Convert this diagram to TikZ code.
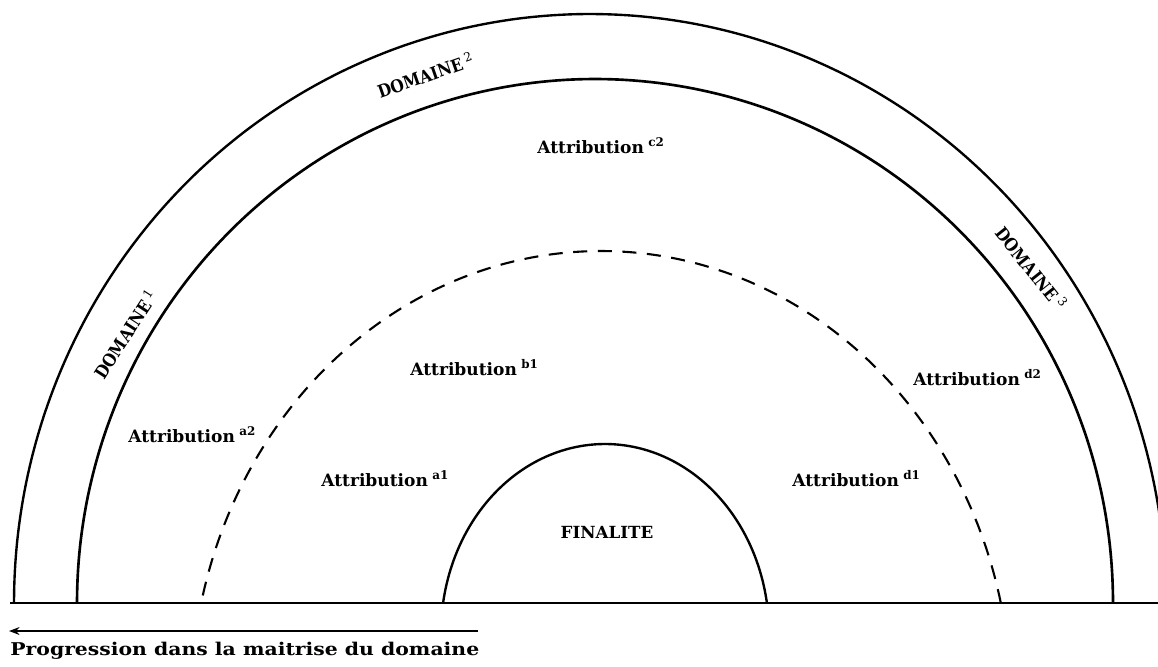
\documentclass[tikz,border=0pt]{standalone}
\usepackage{fontspec}
\setmainfont{DejaVu Serif}
\usetikzlibrary{arrows.meta}
\begin{document}
\begin{tikzpicture}[x=0.02cm,y=-0.02cm,
  arch/.style={line width=1.35pt},
  innerarch/.style={line width=1.5pt},
  dasharch/.style={line width=1.2pt, dash pattern=on 8pt off 6pt},
  ground/.style={line width=0.9pt},
  lab/.style={font=\fontsize{9.7}{12}\selectfont\bfseries, inner sep=0pt, anchor=base west},
  dom/.style={font=\fontsize{10}{12}\selectfont\bfseries, inner sep=0pt, anchor=base west}]
\useasboundingbox (0,0) rectangle (1158,666);

% the nested arches
\begin{scope}
  \clip (0,0) rectangle (1158,666);
  \draw[arch] plot[domain=0.6:180,samples=150,smooth]
    ({590+576*cos(\x)},{603-589*sin(\x)});
\end{scope}
\draw[innerarch] plot[domain=0:180,samples=150,smooth]
  ({595+518*cos(\x)},{603-524*sin(\x)});
\draw[dasharch] plot[domain=12.8:167.2,samples=150,smooth]
  ({601+410*cos(\x)},{703-452*sin(\x)});
\draw[arch] plot[domain=9.13:170.87,samples=120,smooth]
  ({605+164*cos(\x)},{633-189*sin(\x)});

% ground line
\coordinate (gl) at (10,603);
\coordinate (gr) at (1158,603);
\draw[ground] (gl) -- (gr);

% domain labels
\node[dom, rotate=57] (dom1) at (104,381) {\scalebox{0.88}[1]{DOMAINE}\hspace{2pt}\textsuperscript{\mdseries 1}};
\node[dom, rotate=19.4] (dom2) at (380,99) {\scalebox{0.88}[1]{DOMAINE}\hspace{2pt}\textsuperscript{\mdseries 2}};
\node[dom, rotate=-51.6] (dom3) at (994,233) {\scalebox{0.88}[1]{DOMAINE}\hspace{2pt}\textsuperscript{\mdseries 3}};

% attributions
\node[lab] (c2) at (537,153) {Attribution\hspace{2.5pt}\textsuperscript{c2}};
\node[lab] (b1) at (410,375) {Attribution\hspace{2.5pt}\textsuperscript{b1}};
\node[lab] (a2) at (128,442) {Attribution\hspace{2.5pt}\textsuperscript{a2}};
\node[lab] (d2) at (913,385) {Attribution\hspace{2.5pt}\textsuperscript{d2}};
\node[lab] (a1) at (321,486) {Attribution\hspace{2.5pt}\textsuperscript{a1}};
\node[lab] (d1) at (792,486) {Attribution\hspace{2.5pt}\textsuperscript{d1}};

\node[font=\fontsize{9.5}{11}\selectfont\bfseries, inner sep=0pt] (fin) at (607,532) {FINALITE};

% progression arrow and caption
\coordinate (arrS) at (478,631);
\coordinate (arrE) at (9,631);
\draw[line width=1.3pt, -{Stealth[length=6pt,width=4.5pt]}] (arrS) -- (arrE);
\node[font=\fontsize{10}{12}\selectfont\bfseries, inner sep=0pt, anchor=base west] (prog) at (10,655)
  {\scalebox{1.16}[1]{Progression dans la maitrise du domaine}};
\end{tikzpicture}
\end{document}
